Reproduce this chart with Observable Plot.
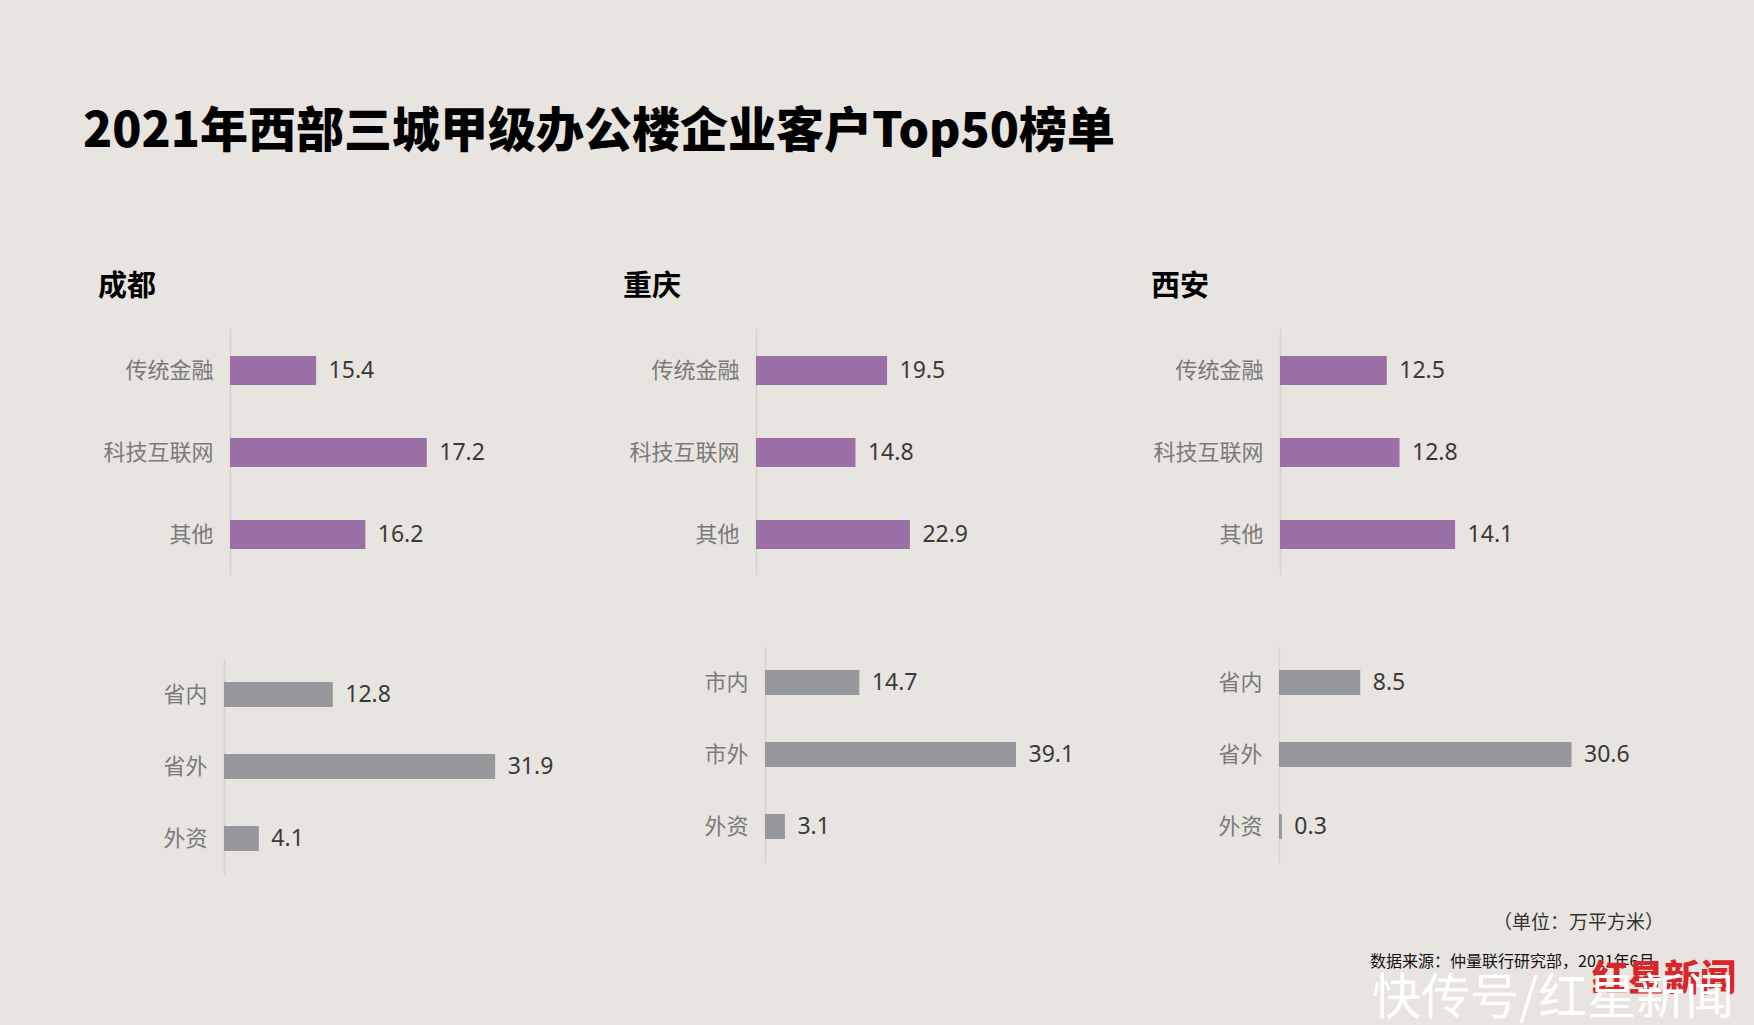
<!DOCTYPE html>
<html>
<head>
<meta charset="utf-8">
<script src="https://cdn.jsdelivr.net/npm/d3@7"></script>
<script src="https://cdn.jsdelivr.net/npm/@observablehq/plot@0.6"></script>
<style>
  html, body { margin: 0; padding: 0; background: #e8e4df; }
  #page { position: relative; width: 1754px; height: 1025px; background: #e8e4df; overflow: hidden; }
  .abs { position: absolute; white-space: nowrap; }
  #title { left: 83px; top: 99px; font-family: "Noto Sans CJK SC", sans-serif; font-weight: 900; font-size: 48px; line-height: 54px; color: #000; letter-spacing: 0px; }
  .city { font-family: "Noto Sans CJK SC", sans-serif; font-weight: 700; font-size: 29px; line-height: 30px; color: #000; top: 268px; }
  #unit { left: 1493px; top: 910px; font-family: "Noto Sans CJK SC", sans-serif; font-size: 19px; line-height: 22px; color: #333; }
  #source { left: 1370px; top: 950px; font-family: "Noto Sans CJK SC", sans-serif; font-size: 16px; line-height: 20px; color: #111; }
  #logo { left: 1592px; top: 954px; font-family: "Noto Sans CJK SC", sans-serif; font-weight: 900; font-size: 36px; line-height: 42px; color: #d8262a; }
  #wm { left: 1372px; top: 964px; font-family: "Noto Sans CJK SC", sans-serif; font-size: 49px; line-height: 58px; color: #ffffff; }
  svg { max-width: none !important; }
</style>
</head>
<body>
<div id="page">
  <div id="title" class="abs">2021年西部三城甲级办公楼企业客户Top50榜单</div>
  <div id="unit" class="abs">（单位：万平方米）</div>
  <div id="source" class="abs">数据来源：仲量联行研究部，2021年6月</div>
  <div id="logo" class="abs">红星新闻</div>
  <div id="wm" class="abs">快传号/红星新闻</div>
</div>
<script>
// ---- data ----
const cities = ["成都", "重庆", "西安"];
const industryCats = ["传统金融", "科技互联网", "其他"];
const industryValues = [
  [15.4, 17.2, 16.2],
  [19.5, 14.8, 22.9],
  [12.5, 12.8, 14.1]
];
const originCats = [
  ["省内", "省外", "外资"],
  ["市内", "市外", "外资"],
  ["省内", "省外", "外资"]
];
const originValues = [
  [12.8, 31.9, 4.1],
  [14.7, 39.1, 3.1],
  [8.5, 30.6, 0.3]
];
// axis domains (as in the original, non-zero minimum where the source chart used one)
const industryDomains = [[14, 18], [0, 25], [10, 15]];
const originDomains = [[0, 35], [0, 45], [0, 35]];

// ---- layout ----
const cityTitleX = [98, 623, 1151];
const topLayout = [
  {axisX: 230, ppu: 61.5},
  {axisX: 755.5, ppu: 6.72},
  {axisX: 1280, ppu: 42.7}
];
const bottomLayout = [
  {axisX: 223.5, ppu: 8.5, y0: 659, y1: 875},
  {axisX: 765, ppu: 6.42, y0: 646.5, y1: 862.5},
  {axisX: 1278.5, ppu: 9.56, y0: 646.5, y1: 862.5}
];
const topY = [328.5, 574.5];

const PURPLE = "#9a70a6";
const GREY = "#97989c";
const page = document.getElementById("page");

function panel(cats, values, domain, lay, y0, y1, color) {
  const data = cats.map((c, i) => ({cat: c, value: values[i]}));
  const ML = 220, MR = 110, MT = 10, MB = 10;
  const w = ML + (domain[1] - domain[0]) * lay.ppu + MR;
  const h = MT + (y1 - y0) + MB;
  const chart = Plot.plot({
    width: w,
    height: h,
    marginLeft: ML,
    marginRight: MR,
    marginTop: MT,
    marginBottom: MB,
    style: {
      background: "transparent",
      fontFamily: "'Noto Sans CJK SC', sans-serif",
      fontSize: "22px",
      color: "#7a7a7a",
      overflow: "visible"
    },
    x: {domain: domain, axis: null},
    y: {domain: cats, paddingInner: 0.65, paddingOuter: 0.325, tickSize: 0, tickPadding: 17, label: null},
    marks: [
      Plot.ruleX([domain[0]], {stroke: "#d5d2cd", strokeWidth: 1.5}),
      Plot.barX(data, {x1: () => domain[0], x2: "value", y: "cat", fill: color}),
      Plot.text(data, {
        x: "value", y: "cat",
        text: d => d.value.toFixed(1),
        textAnchor: "start", dx: 12,
        fontSize: 23, fill: "#3a3a3a",
        fontFamily: "'Noto Sans', sans-serif"
      })
    ]
  });
  chart.style.position = "absolute";
  chart.style.left = (lay.axisX - ML) + "px";
  chart.style.top = (y0 - MT) + "px";
  page.insertBefore(chart, document.getElementById("unit"));
}

cities.forEach((city, i) => {
  const t = document.createElement("div");
  t.className = "abs city";
  t.style.left = cityTitleX[i] + "px";
  t.textContent = city;
  page.appendChild(t);
  panel(industryCats, industryValues[i], industryDomains[i], topLayout[i], topY[0], topY[1], PURPLE);
  const b = bottomLayout[i];
  panel(originCats[i], originValues[i], originDomains[i], b, b.y0, b.y1, GREY);
});
</script>
</body>
</html>
